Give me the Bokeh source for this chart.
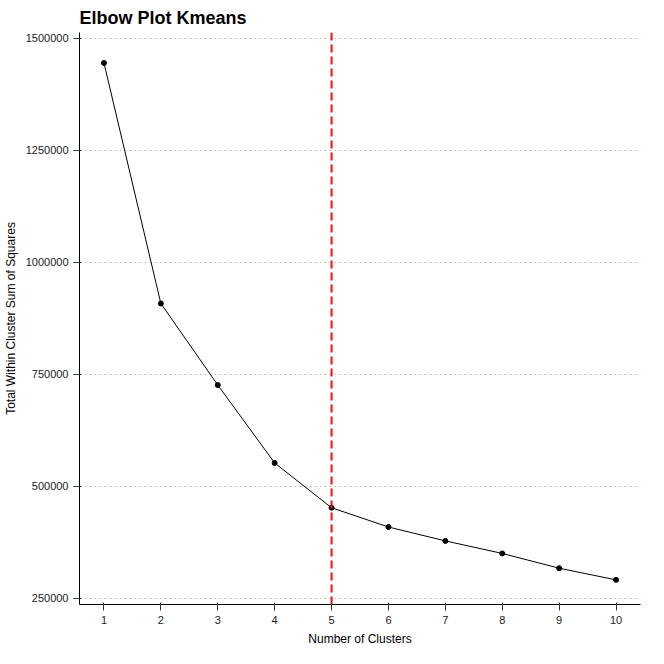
from bokeh.plotting import figure
from bokeh.models import Span, Range1d, FixedTicker, NumeralTickFormatter
from bokeh.embed import file_html
from bokeh.resources import INLINE

clusters = [1, 2, 3, 4, 5, 6, 7, 8, 9, 10]
wss = [1445000, 908000, 726000, 552000, 452000, 409000, 378000, 350000, 317000, 291000]
y_ticks = [250000, 500000, 750000, 1000000, 1250000, 1500000]
elbow_k = 5

p = figure(width=648, height=648, output_backend="svg", toolbar_location=None,
           title="Elbow Plot Kmeans",
           x_range=Range1d(0.57, 10.43), y_range=Range1d(236000, 1513000),
           x_axis_label="Number of Clusters",
           y_axis_label="Total Within Cluster Sum of Squares")
p.title.text_font = "Liberation Sans"
p.title.text_font_size = "18px"
p.title.text_font_style = "bold"
p.title.text_color = "black"
p.outline_line_color = None
p.border_fill_color = "white"
p.min_border_right = 8

for ax in (p.xaxis, p.yaxis):
    ax.axis_line_color = "black"
    ax.major_tick_line_color = "#333333"
    ax.minor_tick_line_color = None
    ax.major_label_text_font = "Liberation Sans"
    ax.major_label_text_font_size = "11px"
    ax.major_label_text_color = "#222222"
    ax.axis_label_text_font = "Liberation Sans"
    ax.axis_label_text_font_size = "12px"
    ax.axis_label_text_font_style = "normal"
    ax.axis_label_text_color = "black"
p.xaxis.ticker = FixedTicker(ticks=clusters)
p.yaxis.ticker = FixedTicker(ticks=y_ticks)
p.yaxis.formatter = NumeralTickFormatter(format="0")

p.xgrid.grid_line_color = None
p.ygrid.grid_line_color = "#bbbbbb"
p.ygrid.grid_line_dash = "2 3"

p.line(clusters, wss, line_color="black", line_width=1)
p.scatter(clusters, wss, size=5, color="black")
p.add_layout(Span(location=elbow_k, dimension="height", line_color="#ee1111",
                  line_width=2, line_dash="8 4"))

open("out.html", "w").write(file_html(p, INLINE))
